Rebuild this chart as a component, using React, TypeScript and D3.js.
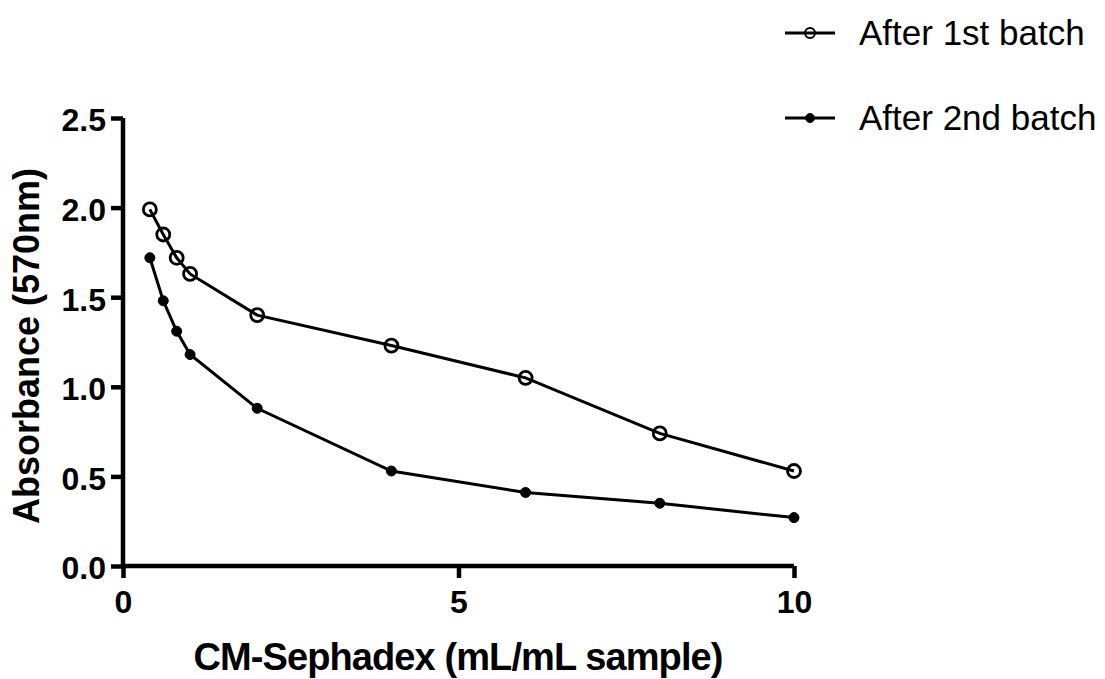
import * as d3 from "d3";
import { useEffect, useRef } from "react";

const doses = [0.4, 0.6, 0.8, 1, 2, 4, 6, 8, 10];
const firstBatch = [1.99, 1.85, 1.72, 1.63, 1.4, 1.23, 1.05, 0.74, 0.53];
const secondBatch = [1.72, 1.48, 1.31, 1.18, 0.88, 0.53, 0.41, 0.35, 0.27];
const seriesNames = ["After 1st batch", "After 2nd batch"];
const xTicks = [0, 5, 10];
const yTicks = [0, 0.5, 1.0, 1.5, 2.0, 2.5];

const App = () => {
  const ref = useRef<SVGSVGElement>(null);

  useEffect(() => {
    const svg = d3.select(ref.current);
    svg.selectAll("*").remove();

    const font = "'Liberation Sans', Arial, sans-serif";
    const x = d3.scaleLinear().domain([0, 10]).range([123, 794]);
    const y = d3.scaleLinear().domain([0, 2.5]).range([566, 118]);

    // axes
    const xAxis = svg
      .append("g")
      .attr("transform", `translate(0,${y(0)})`)
      .call(d3.axisBottom(x).tickValues(xTicks).tickSize(12).tickPadding(12).tickFormat(d3.format("d")));
    const yAxis = svg
      .append("g")
      .attr("transform", `translate(${x(0)},0)`)
      .call(d3.axisLeft(y).tickValues(yTicks).tickSize(12).tickPadding(5).tickFormat(d3.format(".1f")));

    [xAxis, yAxis].forEach((g) => {
      g.select(".domain").attr("stroke", "#000").attr("stroke-width", 4.5);
      g.selectAll(".tick line").attr("stroke", "#000").attr("stroke-width", 4.5);
      g.selectAll(".tick text")
        .attr("fill", "#000")
        .style("font-family", font)
        .style("font-weight", "bold")
        .style("font-size", "32px");
    });
    yAxis.selectAll(".tick text").attr("dy", "0.4em");
    // plain domain lines without end caps
    xAxis.select(".domain").attr("d", `M${x(0)},0H${x(10)}`);
    yAxis.select(".domain").attr("d", `M0,${y(0) + 2}V${y(2.5)}`);

    // axis titles
    svg
      .append("text")
      .attr("x", 458)
      .attr("y", 670)
      .attr("text-anchor", "middle")
      .style("font-family", font)
      .style("font-weight", "bold")
      .style("font-size", "38px")
      .style("letter-spacing", "-0.9px")
      .text("CM-Sephadex (mL/mL sample)");
    svg
      .append("text")
      .attr("transform", `translate(39,346) rotate(-90)`)
      .attr("text-anchor", "middle")
      .style("font-family", font)
      .style("font-weight", "bold")
      .style("font-size", "36px")
      .text("Absorbance (570nm)");

    const line = d3
      .line<number>()
      .x((_, i) => x(doses[i]))
      .y((d) => y(d));

    const series = [firstBatch, secondBatch];
    series.forEach((vals, si) => {
      svg.append("path").datum(vals).attr("d", line).attr("fill", "none").attr("stroke", "#000").attr("stroke-width", 3);
      svg
        .append("g")
        .selectAll("circle")
        .data(vals)
        .join("circle")
        .attr("cx", (_, i) => x(doses[i]))
        .attr("cy", (d) => y(d))
        .attr("r", si === 0 ? 6.5 : 5)
        .attr("fill", si === 0 ? "none" : "#000")
        .attr("stroke", "#000")
        .attr("stroke-width", si === 0 ? 2.8 : 1);
    });

    // legend
    const legend = svg.append("g");
    seriesNames.forEach((name, si) => {
      const ly = 33 + si * 85;
      legend.append("line").attr("x1", 785).attr("x2", 835).attr("y1", ly).attr("y2", ly).attr("stroke", "#000").attr("stroke-width", 3);
      legend
        .append("circle")
        .attr("cx", 810)
        .attr("cy", ly)
        .attr("r", si === 0 ? 5 : 4.5)
        .attr("fill", si === 0 ? "none" : "#000")
        .attr("stroke", "#000")
        .attr("stroke-width", si === 0 ? 2 : 1);
      legend
        .append("text")
        .attr("x", 859)
        .attr("y", ly + 12)
        .style("font-family", font)
        .style("font-size", "35px")
        .attr("fill", "#000")
        .text(name);
    });
  }, []);

  return (
    <svg
      ref={ref}
      width={1105}
      height={679}
      style={{ position: "absolute", left: 0, top: 0, background: "#fff" }}
    />
  );
};

export default App;
